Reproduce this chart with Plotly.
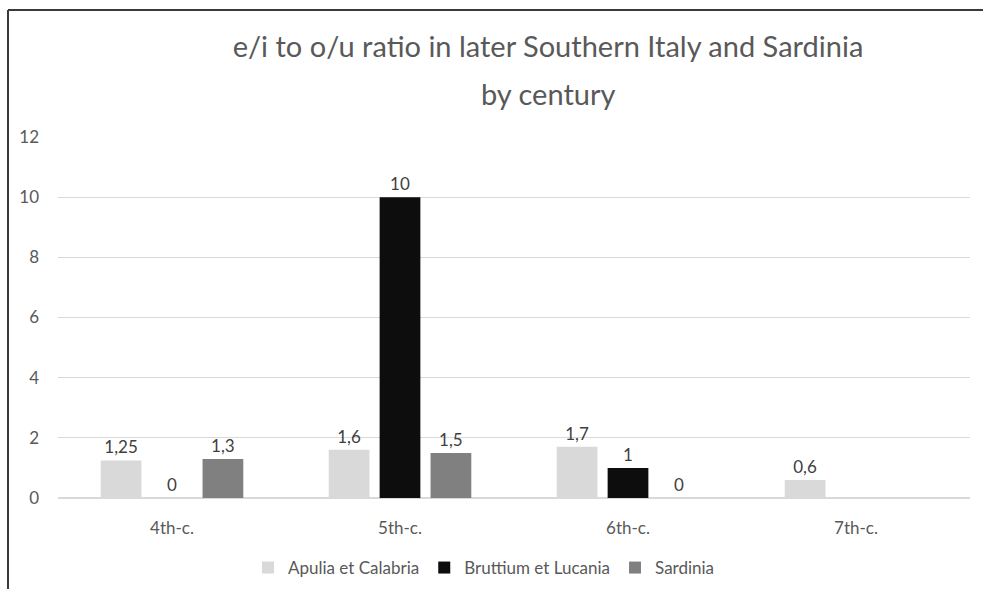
import plotly.graph_objects as go

# Datos
centuries = ["4th-c.", "5th-c.", "6th-c.", "7th-c."]
apulia = [1.25, 1.6, 1.7, 0.6]
bruttium = [0, 10, 1, None]
sardinia = [1.3, 1.5, 0, None]
y_ticks = [0, 2, 4, 6, 8, 10, 12]

W, H = 983, 589
M = dict(l=58, r=13, t=137, b=91)
FONT = "Lato, sans-serif"

fig = go.Figure()

series = [
    ("Apulia et Calabria", apulia, "#d9d9d9"),
    ("Bruttium et Lucania", bruttium, "#0d0d0d"),
    ("Sardinia", sardinia, "#808080"),
]
for name, vals, color in series:
    fig.add_trace(go.Bar(
        x=centuries, y=vals, name=name,
        marker=dict(color=color, line=dict(width=0)),
        texttemplate="%{y}",
        textposition="outside",
        textfont=dict(color="#404040", size=17),
        cliponaxis=False,
    ))

# Borde del gráfico (izquierda y arriba)
pw = W - M["l"] - M["r"]
ph = H - M["t"] - M["b"]
x_left = (8 - M["l"]) / pw
y_top = (H - 10 - M["b"]) / ph
y_bot = (0 - M["b"]) / ph
fig.add_shape(type="line", xref="paper", yref="paper",
              x0=x_left, x1=(W - M["l"]) / pw, y0=y_top, y1=y_top,
              line=dict(color="#3a3a3a", width=2))
fig.add_shape(type="line", xref="paper", yref="paper",
              x0=x_left, x1=x_left, y0=y_top, y1=y_bot,
              line=dict(color="#3a3a3a", width=2))

# Segunda línea del título
fig.add_annotation(
    text="by century", xref="paper", yref="paper",
    x=(548 - M["l"]) / pw, y=(H - 93 - M["b"]) / ph,
    xanchor="center", yanchor="middle", showarrow=False,
    font=dict(size=29, color="#595959", family=FONT),
)

fig.update_layout(
    width=W, height=H,
    margin=M,
    paper_bgcolor="white", plot_bgcolor="white",
    separators=",.",
    font=dict(family=FONT, color="#595959", size=17),
    title=dict(
        text="e/i to o/u ratio in later Southern Italy and Sardinia",
        x=548 / W, xref="container", xanchor="center",
        y=1 - 47 / H, yref="container", yanchor="middle",
        font=dict(size=29, color="#595959", family=FONT),
    ),
    barmode="group",
    bargap=0.33,
    bargroupgap=0.2,
    xaxis=dict(showgrid=False, showline=False, ticks="",
               ticklabelstandoff=18, automargin=False,
               tickfont=dict(size=17, color="#595959")),
    yaxis=dict(range=[0, 12], tickvals=y_ticks, showgrid=True,
               gridcolor="#d9d9d9", gridwidth=1, zeroline=True,
               zerolinecolor="#d9d9d9", showline=False, ticks="",
               ticklabelstandoff=18, automargin=False,
               tickfont=dict(size=17, color="#595959")),
    legend=dict(orientation="h",
                xref="container", x=484 / W, xanchor="center",
                yref="container", y=1 - 568 / H, yanchor="middle",
                font=dict(size=17, color="#595959"),
                itemwidth=30, traceorder="normal"),
)

fig.write_html("out.html", config={"displayModeBar": False},
               post_script="document.body.style.margin='0';")
